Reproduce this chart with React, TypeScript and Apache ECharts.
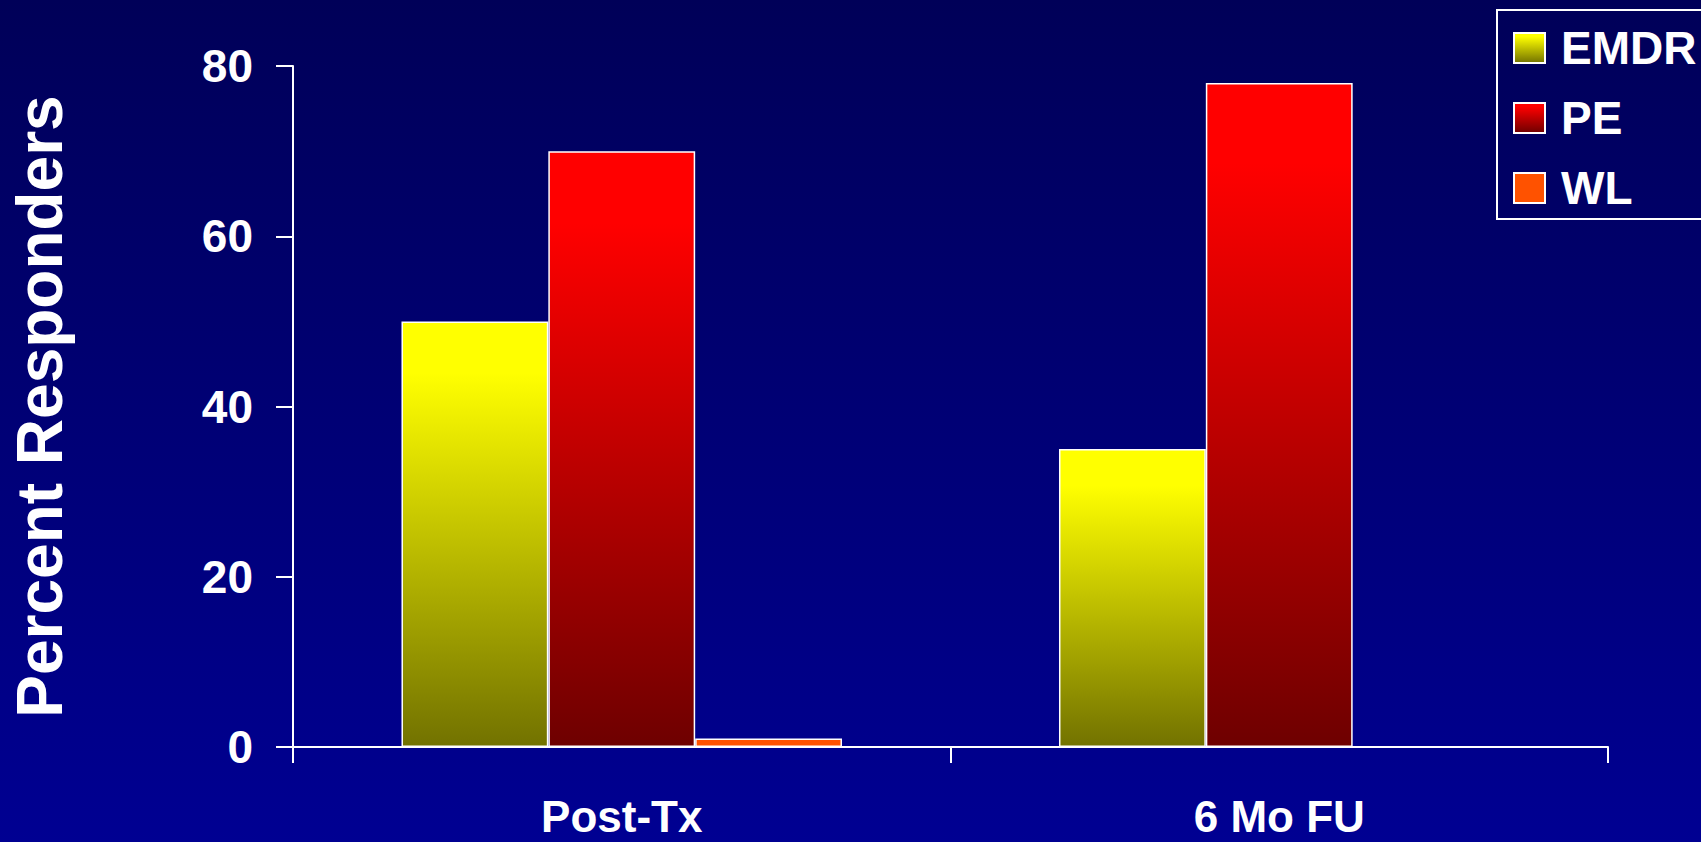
import React, { useEffect, useRef } from "react";
import * as echarts from "echarts";

// Responder rates by assessment point
const categories = ["Post-Tx", "6 Mo FU"];
const emdrValues = [50, 35];
const peValues = [70, 78];
const wlValues = [1, 0];
const yTicks = { min: 0, max: 80, interval: 20 };

const FONT = '"Liberation Sans", Arial, Helvetica, sans-serif';

const vGrad = (top: string, bottom: string) =>
  new echarts.graphic.LinearGradient(0, 0, 0, 1, [
    { offset: 0, color: top },
    { offset: 0.12, color: top },
    { offset: 1, color: bottom },
  ]);

export default function App() {
  const ref = useRef<HTMLDivElement>(null);

  useEffect(() => {
    if (!ref.current) return;
    const chart = echarts.init(ref.current, undefined, { renderer: "svg" });

    const barBase = {
      type: "bar" as const,
      barGap: "0%",
      barCategoryGap: "33%",
    };

    chart.setOption({
      animation: false,
      backgroundColor: new echarts.graphic.LinearGradient(0, 0, 0, 1, [
        { offset: 0, color: "#000058" },
        { offset: 1, color: "#000092" },
      ]),
      textStyle: { fontFamily: FONT },
      grid: { left: 290, right: 93, top: 66, bottom: 95, containLabel: false },
      legend: {
        left: 1497,
        top: 10,
        orient: "vertical",
        padding: [15, 24, 8, 16],
        itemGap: 24,
        itemWidth: 31,
        itemHeight: 30,
        borderColor: "#ffffff",
        borderWidth: 2,
        borderRadius: 0,
        icon: "rect",
        textStyle: {
          color: "#ffffff",
          fontSize: 46,
          fontWeight: "bold",
          fontFamily: FONT,
          padding: [0, 0, 0, 11],
        },
        data: ["EMDR", "PE", "WL"],
      },
      xAxis: {
        type: "category",
        data: categories,
        axisLine: { show: true, lineStyle: { color: "#ffffff", width: 2 } },
        axisTick: { show: true, length: 16, alignWithLabel: false, lineStyle: { color: "#ffffff", width: 2 } },
        axisLabel: {
          color: "#ffffff",
          fontSize: 44,
          lineHeight: 38,
          fontWeight: "bold",
          fontFamily: FONT,
          margin: 50,
        },
        splitLine: { show: false },
      },
      yAxis: {
        type: "value",
        min: yTicks.min,
        max: yTicks.max,
        interval: yTicks.interval,
        name: "Percent Responders",
        nameLocation: "middle",
        nameRotate: 90,
        nameGap: 221,
        nameTextStyle: {
          color: "#ffffff",
          fontSize: 64,
          fontWeight: "bold",
          fontFamily: FONT,
        },
        axisLine: { show: true, lineStyle: { color: "#ffffff", width: 2 } },
        axisTick: { show: true, length: 17, lineStyle: { color: "#ffffff", width: 2 } },
        axisLabel: {
          color: "#ffffff",
          fontSize: 46,
          fontWeight: "bold",
          fontFamily: FONT,
          margin: 40,
        },
        splitLine: { show: false },
      },
      series: [
        {
          ...barBase,
          name: "EMDR",
          data: emdrValues,
          itemStyle: { color: vGrad("#ffff00", "#727200"), borderColor: "#ffffff", borderWidth: 1.5 },
        },
        {
          ...barBase,
          name: "PE",
          data: peValues,
          itemStyle: { color: vGrad("#ff0000", "#6e0000"), borderColor: "#ffffff", borderWidth: 1.5 },
        },
        {
          ...barBase,
          name: "WL",
          data: wlValues,
          itemStyle: { color: "#ff5200", borderColor: "#ffffff", borderWidth: 1.5 },
        },
      ],
    });

    return () => chart.dispose();
  }, []);

  return (
    <div
      ref={ref}
      style={{ position: "fixed", left: 0, top: 0, width: 1701, height: 842 }}
    />
  );
}
